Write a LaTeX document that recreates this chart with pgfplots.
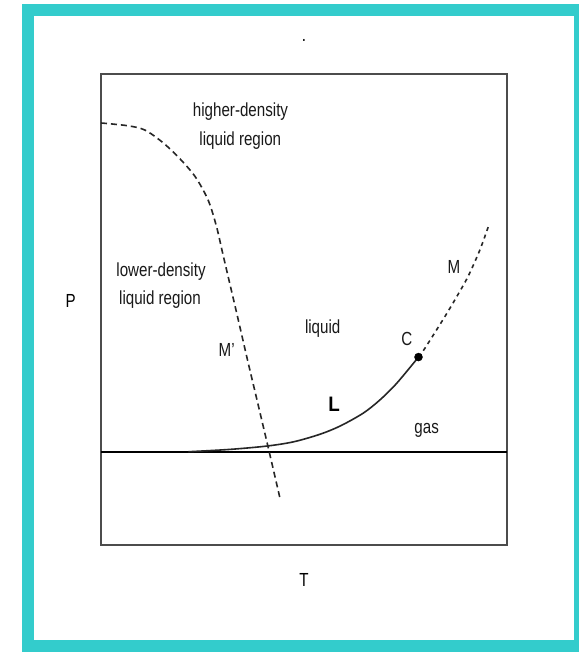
\documentclass[border=0pt]{standalone}
\usepackage{fontspec}
\setmainfont{Liberation Sans}
\usepackage{graphicx}
\usepackage{pgfplots}
\pgfplotsset{compat=1.18}
\definecolor{frame}{RGB}{51,204,204}
\newcommand{\lbl}[1]{\scalebox{0.8}[1]{\fontsize{19}{21}\selectfont #1}}
\begin{document}
\begin{tikzpicture}[x=1bp,y=1bp]
\useasboundingbox (0,0) rectangle (579,652);
\fill[frame] (22,0) rectangle (579,648);
\fill[white] (34,12) rectangle (574,636);
\begin{axis}[
  at={(101bp,107bp)}, anchor=south west,
  width=406bp, height=471bp, scale only axis,
  xmin=0, xmax=1, ymin=0, ymax=1,
  xtick=\empty, ytick=\empty,
  axis line style={black!70, line width=1.8bp},
  clip=false,
  xlabel={\lbl{T}}, ylabel={\lbl{P}},
  every axis x label/.style={at={(axis description cs:0.5,-0.0743)}, anchor=center},
  every axis y label/.style={at={(axis description cs:-0.0746,0.519)}, anchor=center},
  title={\lbl{.}},
  every axis title/.style={at={(axis description cs:0.5,1.07)}, anchor=base},
]
% boundary line
\addplot[black, line width=1.6bp] coordinates {(0,0.197) (1,0.197)};
% liquid-gas coexistence curve L
\addplot[black!85, line width=1.6bp, smooth] coordinates {
  (0.215,0.198) (0.318,0.203) (0.408,0.210) (0.474,0.219) (0.539,0.235)
  (0.590,0.253) (0.646,0.280) (0.687,0.308) (0.728,0.343) (0.782,0.399)};
% line M
\addplot[black!85, line width=1.6bp, smooth, dash pattern=on 4bp off 4bp] coordinates {
  (0.782,0.399) (0.798,0.418) (0.847,0.485) (0.876,0.527) (0.904,0.570)
  (0.933,0.626) (0.954,0.676)};
% line M'
\addplot[black!85, line width=1.6bp, smooth, dash pattern=on 6bp off 4bp] coordinates {
  (0,0.896) (0.067,0.890) (0.108,0.881) (0.150,0.856) (0.190,0.824)
  (0.232,0.782) (0.264,0.732) (0.2845,0.676) (0.3017,0.612) (0.3362,0.485)
  (0.3608,0.393) (0.3842,0.308) (0.4113,0.209) (0.4409,0.099)};
% critical point C
\addplot[only marks, mark=*, mark size=4bp, black] coordinates {(0.782,0.399)};
% labels
\node[anchor=base, text=black!90] at (axis cs:0.3436,0.9093) {\lbl{higher-density}};
\node[anchor=base, text=black!90] at (axis cs:0.3431,0.849) {\lbl{liquid region}};
\node[anchor=base, text=black!90] at (axis cs:0.1478,0.571) {\lbl{lower-density}};
\node[anchor=base, text=black!90] at (axis cs:0.1453,0.5096) {\lbl{liquid region}};
\node[anchor=center, text=black!90] at (axis cs:0.3096,0.414) {\lbl{M{\char"27}}};
\node[anchor=base, text=black!90] at (axis cs:0.546,0.4495) {\lbl{liquid}};
\node[anchor=center, text=black!90] at (axis cs:0.753,0.437) {\lbl{C}};
\node[anchor=center, text=black] at (axis cs:0.574,0.299) {\scalebox{0.9}[1]{\fontsize{21}{23}\selectfont\bfseries L}};
\node[anchor=base, text=black!90] at (axis cs:0.802,0.237) {\lbl{gas}};
\node[anchor=center, text=black!90] at (axis cs:0.8695,0.590) {\lbl{M}};
\end{axis}
\end{tikzpicture}
\end{document}
